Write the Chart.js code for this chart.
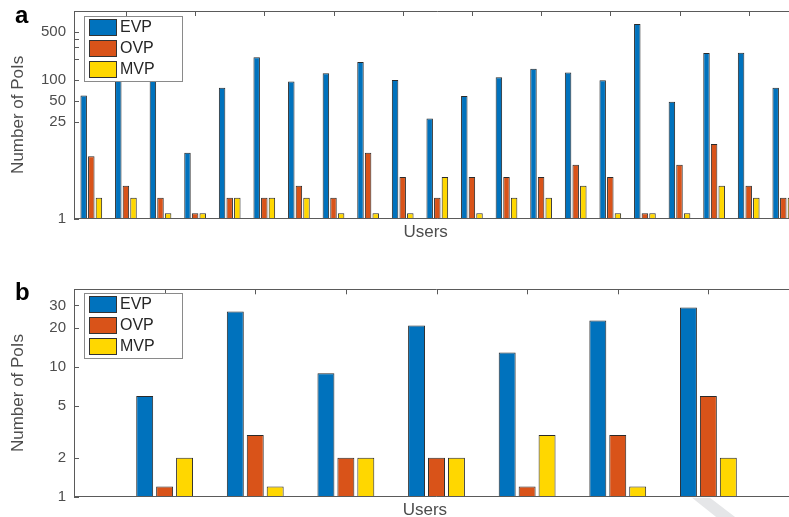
<!DOCTYPE html>
<html>
<head>
<meta charset="utf-8">
<script src="https://cdn.jsdelivr.net/npm/chart.js@4/dist/chart.umd.min.js"></script>
<style>
  html, body { margin: 0; padding: 0; background: #fff; overflow: hidden; width: 789px; height: 517px; }
  canvas { position: absolute; left: 0; }
  #chartA { top: 0; }
  #chartB { top: 260px; }
</style>
</head>
<body>
<canvas id="chartA" width="830" height="250"></canvas>
<canvas id="chartB" width="830" height="257"></canvas>
<script>
// ---- data: panel a (21 users) ----
const usersA = [1, 2, 3, 4, 5, 6, 7, 8, 9, 10, 11, 12, 13, 14, 15, 16, 17, 18, 19, 20, 21];
const evpA = [60, 150, 130, 9, 78, 215, 96, 126, 184, 101, 28, 59, 110, 146, 129, 100, 650, 49, 247, 250, 78];
const ovpA = [8, 3, 2, 1.2, 2, 2, 3, 2, 9, 4, 2, 4, 4, 4, 6, 4, 1.2, 6, 12, 3, 2];
const mvpA = [2, 2, 1.2, 1.2, 2, 2, 2, 1.2, 1.2, 1.2, 4, 1.2, 2, 2, 3, 1.2, 1.2, 1.2, 3, 2, 2];
const yTicksA = [1, 25, 50, 100, 500];
const yMinorA = [200, 300, 400];
const xTicksA = [2, 4, 6, 8, 10, 12, 14, 16, 18, 20];

// ---- data: panel b (7 users) ----
const usersB = [1, 2, 3, 4, 5, 6, 7];
const evpB = [6, 27, 9, 21, 13, 23, 29];
const ovpB = [1.2, 3, 2, 2, 1.2, 3, 6];
const mvpB = [2, 1.2, 2, 2, 3, 1.2, 2];
const yTicksB = [1, 2, 5, 10, 20, 30];
const yMinorB = [];
const xTicksB = [1, 2, 3, 4, 5, 6, 7];

const seriesNames = ['EVP', 'OVP', 'MVP'];
const seriesColors = ['#0072BD', '#D95319', '#FFD700'];

const FONT = "'Liberation Sans', Arial, Helvetica, sans-serif";
const AXIS_COLOR = '#5a5a5a';
const TEXT_COLOR = '#4d4d4d';

// Box, tick marks, legend, panel letter and x label, drawn over the bars.
const panelDecor = {
  id: 'panelDecor',
  afterDatasetsDraw(chart, args, o) {
    const ctx = chart.ctx;
    const a = chart.chartArea;
    const xs = chart.scales.x, ys = chart.scales.y;
    const tick = 5;
    ctx.save();
    ctx.strokeStyle = AXIS_COLOR;
    ctx.lineWidth = 1;
    ctx.beginPath();
    // left, bottom and top edges
    ctx.moveTo(a.left + 0.5, a.top + 0.5);
    ctx.lineTo(a.left + 0.5, a.bottom);
    ctx.moveTo(a.left, Math.round(a.bottom) - 0.5);
    ctx.lineTo(a.right, Math.round(a.bottom) - 0.5);
    ctx.moveTo(a.left, Math.round(a.top) + 0.5);
    ctx.lineTo(a.right, Math.round(a.top) + 0.5);
    // y ticks pointing inward
    o.yTicks.concat(o.yMinor).forEach(v => {
      const py = Math.round(ys.getPixelForValue(v)) + 0.5;
      ctx.moveTo(a.left, py);
      ctx.lineTo(a.left + tick, py);
    });
    // x ticks along the top edge
    o.xTicks.forEach(v => {
      const px = Math.round(xs.getPixelForValue(v)) + 0.5;
      ctx.moveTo(px, a.top);
      ctx.lineTo(px, a.top + tick);
    });
    ctx.stroke();

    // legend box
    const lx = a.left + 9.5, ly = a.top + o.legendDy, lw = 98, lh = 65;
    ctx.fillStyle = '#fff';
    ctx.fillRect(lx, ly, lw, lh);
    ctx.strokeStyle = '#8a8a8a';
    ctx.strokeRect(Math.round(lx) + 0.5, Math.round(ly) + 0.5, lw, lh);
    ctx.font = '16px ' + FONT;
    ctx.textBaseline = 'middle';
    ctx.textAlign = 'left';
    chart.data.datasets.forEach((ds, i) => {
      const sy = Math.round(ly + 3 + i * 21);
      const sx = Math.round(lx + 5.5);
      ctx.fillStyle = ds.backgroundColor;
      ctx.fillRect(sx, sy, 28, 17);
      ctx.strokeStyle = '#333';
      ctx.strokeRect(sx + 0.5, sy + 0.5, 27, 16);
      ctx.fillStyle = '#262626';
      ctx.fillText(ds.label, lx + 36.5, sy + 9);
    });

    // x axis label
    ctx.fillStyle = TEXT_COLOR;
    ctx.font = '17px ' + FONT;
    ctx.textAlign = 'center';
    ctx.textBaseline = 'alphabetic';
    ctx.fillText('Users', a.left + 0.484 * (a.right - a.left), a.bottom + 18.5);

    // panel letter
    ctx.fillStyle = '#000';
    ctx.font = 'bold 24px ' + FONT;
    ctx.textAlign = 'left';
    ctx.fillText(o.letter, 15, o.letterY);

    // light corner ribbon below the lower axis
    if (o.ribbon) {
      const b = a.bottom;
      ctx.fillStyle = '#e5e6e8';
      ctx.beginPath();
      ctx.moveTo(692, b + 1);
      ctx.lineTo(710, b + 1);
      ctx.lineTo(736, b + 21);
      ctx.lineTo(717, b + 21);
      ctx.closePath();
      ctx.fill();
    }
    ctx.restore();
  }
};

function makeChart(id, cfg) {
  const datasets = [cfg.evp, cfg.ovp, cfg.mvp].map((vals, i) => ({
    label: seriesNames[i],
    data: vals,
    backgroundColor: seriesColors[i],
    borderColor: '#2a2a2a',
    borderWidth: 1,
    borderSkipped: 'start',
    categoryPercentage: 0.66,
    barPercentage: 0.85
  }));
  return new Chart(document.getElementById(id), {
    type: 'bar',
    data: { labels: cfg.users, datasets },
    plugins: [panelDecor],
    options: {
      responsive: false,
      devicePixelRatio: 1,
      animation: false,
      layout: { padding: cfg.padding },
      plugins: {
        legend: { display: false },
        tooltip: { enabled: false },
        panelDecor: {
          yTicks: cfg.yTicks, yMinor: cfg.yMinor, xTicks: cfg.xTicks,
          legendDy: cfg.legendDy, letter: cfg.letter, letterY: cfg.letterY,
          ribbon: cfg.ribbon
        }
      },
      scales: {
        x: {
          type: 'linear',
          offset: false,
          min: cfg.xMin,
          max: cfg.xMax,
          grid: { display: false, offset: false, drawTicks: false },
          border: { display: false },
          ticks: { display: false },
          afterBuildTicks: s => { s.ticks = cfg.xTicks.map(v => ({ value: v })); },
          afterFit: s => { s.height = 0; s.paddingLeft = 0; s.paddingRight = 0; }
        },
        y: {
          type: 'logarithmic',
          min: 1,
          max: cfg.yMax,
          grid: { display: false, drawTicks: false },
          border: { display: false },
          ticks: {
            padding: 8,
            color: TEXT_COLOR,
            font: { size: 15, family: FONT },
            callback: v => String(v)
          },
          afterBuildTicks: s => { s.ticks = cfg.yTicks.map(v => ({ value: v })); },
          afterFit: s => { s.width = 74; s.paddingTop = 0; s.paddingBottom = 0; },
          title: {
            display: true,
            text: 'Number of PoIs',
            color: TEXT_COLOR,
            font: { size: 17, family: FONT },
            padding: { top: 8, bottom: 0 }
          }
        }
      }
    }
  });
}

makeChart('chartA', {
  users: usersA, evp: evpA, ovp: ovpA, mvp: mvpA,
  yTicks: yTicksA, yMinor: yMinorA, xTicks: xTicksA,
  yMax: 1000, xMin: 0.5, xMax: 21.5,
  padding: { top: 11, bottom: 31.3, left: 0, right: 29.4 },
  legendDy: 5, letter: 'a', letterY: 22.5, ribbon: false
});

makeChart('chartB', {
  users: usersB, evp: evpB, ovp: ovpB, mvp: mvpB,
  yTicks: yTicksB, yMinor: yMinorB, xTicks: xTicksB,
  yMax: 40, xMin: 0, xMax: 8,
  padding: { top: 29.3, bottom: 20.3, left: 0, right: 31 },
  legendDy: 4, letter: 'b', letterY: 40, ribbon: true
});
</script>
</body>
</html>
